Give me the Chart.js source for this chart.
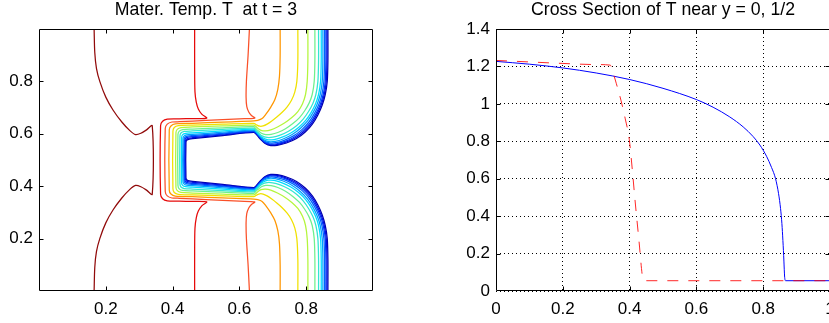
<!DOCTYPE html>
<html>
<head>
<meta charset="utf-8">
<script src="https://cdn.jsdelivr.net/npm/chart.js@4.4.1/dist/chart.umd.min.js"></script>
<style>
  html, body { margin: 0; padding: 0; background: #fff; overflow: hidden; width: 829px; height: 323px; }
  #left { position: absolute; left: 0; top: 0; }
  #right { position: absolute; left: 420px; top: 0; }
</style>
</head>
<body>
<canvas id="left" width="420" height="323"></canvas>
<canvas id="right" width="450" height="323"></canvas>
<script>
'use strict';

var FONT = '"Liberation Sans", Arial, Helvetica, sans-serif';

// contour levels of T, hottest first (jet colours)
var levelColors = [
  'rgb(145,10,10)', 'rgb(230,10,10)', 'rgb(250,80,40)', 'rgb(255,150,0)', 'rgb(240,225,0)',
  'rgb(180,245,60)', 'rgb(110,240,140)', 'rgb(50,230,210)', 'rgb(0,220,255)', 'rgb(0,160,255)',
  'rgb(0,100,255)', 'rgb(0,50,245)', 'rgb(0,10,220)', 'rgb(0,0,170)'
];

// each contour runs from the top edge (y = 1) to the bottom edge (y = 0)
var tDarkRed = [[0.165,1.0],[0.167,0.91],[0.172,0.85],[0.182,0.80],[0.200,0.74],[0.222,0.69],[0.248,0.645],[0.272,0.612],[0.289,0.597],[0.305,0.602],[0.322,0.615],[0.339,0.631],
  [0.339,0.369],[0.322,0.385],[0.305,0.398],[0.289,0.403],[0.272,0.388],[0.248,0.355],[0.222,0.31],[0.200,0.26],[0.182,0.20],[0.172,0.15],[0.167,0.09],[0.165,0.0]];

var tRed = [[0.466,1.0],[0.466,0.85],[0.467,0.76],[0.471,0.72],[0.477,0.695],[0.488,0.674],[0.502,0.660],[0.46,0.658],[0.42,0.657],[0.384,0.656],[0.370,0.648],[0.364,0.631],
  [0.364,0.369],[0.370,0.352],[0.384,0.344],[0.42,0.343],[0.46,0.342],[0.502,0.340],[0.488,0.326],[0.477,0.305],[0.471,0.28],[0.467,0.24],[0.466,0.15],[0.466,0.0]];

var tOrangeRed = [[0.630,1.0],[0.626,0.90],[0.621,0.80],[0.620,0.74],[0.622,0.705],[0.628,0.683],[0.636,0.670],[0.646,0.660],[0.60,0.657],[0.50,0.651],[0.42,0.646],[0.398,0.645],[0.384,0.637],[0.378,0.620],
  [0.378,0.380],[0.384,0.363],[0.398,0.355],[0.42,0.354],[0.50,0.349],[0.60,0.343],[0.646,0.340],[0.636,0.330],[0.628,0.317],[0.622,0.295],[0.620,0.26],[0.621,0.20],[0.626,0.10],[0.630,0.0]];

var tOrange = [[0.722,1.0],[0.722,0.90],[0.720,0.82],[0.715,0.77],[0.706,0.73],[0.694,0.702],[0.680,0.676],[0.668,0.658],[0.655,0.651],[0.643,0.649],[0.55,0.645],[0.46,0.640],[0.408,0.638],[0.395,0.630],[0.390,0.615],
  [0.390,0.385],[0.395,0.370],[0.408,0.362],[0.46,0.360],[0.55,0.355],[0.643,0.351],[0.655,0.349],[0.668,0.342],[0.680,0.324],[0.694,0.298],[0.706,0.27],[0.715,0.23],[0.720,0.18],[0.722,0.10],[0.722,0.0]];

var tYellow = [[0.775,1.0],[0.775,0.88],[0.772,0.80],[0.766,0.76],[0.756,0.728],[0.743,0.703],[0.728,0.682],[0.712,0.664],[0.697,0.649],[0.683,0.637],[0.671,0.630],[0.661,0.629],[0.653,0.633],[0.643,0.640],[0.55,0.637],[0.46,0.633],[0.417,0.631],[0.405,0.624],[0.401,0.610],
  [0.401,0.390],[0.405,0.376],[0.417,0.369],[0.46,0.367],[0.55,0.363],[0.643,0.360],[0.653,0.367],[0.661,0.371],[0.671,0.370],[0.683,0.363],[0.697,0.351],[0.712,0.336],[0.728,0.318],[0.743,0.297],[0.756,0.272],[0.766,0.24],[0.772,0.20],[0.775,0.12],[0.775,0.0]];

var tYellowGreen = [[0.805,1.0],[0.805,0.88],[0.803,0.80],[0.798,0.75],[0.789,0.715],[0.775,0.685],[0.757,0.662],[0.736,0.642],[0.714,0.626],[0.694,0.615],[0.678,0.611],[0.665,0.613],[0.655,0.621],[0.643,0.633],[0.55,0.630],[0.46,0.626],[0.425,0.624],[0.414,0.617],[0.410,0.604],
  [0.410,0.396],[0.414,0.383],[0.425,0.376],[0.46,0.374],[0.55,0.370],[0.643,0.367],[0.655,0.379],[0.665,0.387],[0.678,0.389],[0.694,0.385],[0.714,0.374],[0.736,0.358],[0.757,0.338],[0.775,0.315],[0.789,0.285],[0.798,0.25],[0.803,0.20],[0.805,0.12],[0.805,0.0]];

var tGreen = [[0.826,1.0],[0.826,0.88],[0.824,0.80],[0.818,0.75],[0.809,0.718],[0.796,0.689],[0.780,0.662],[0.760,0.639],[0.738,0.619],[0.715,0.605],[0.695,0.598],[0.679,0.597],[0.666,0.602],[0.656,0.612],[0.649,0.620],[0.643,0.627],[0.55,0.623],[0.46,0.618],[0.430,0.616],[0.420,0.610],[0.416,0.597],
  [0.416,0.403],[0.420,0.390],[0.430,0.384],[0.46,0.382],[0.55,0.377],[0.643,0.373],[0.649,0.380],[0.656,0.388],[0.666,0.398],[0.679,0.403],[0.695,0.402],[0.715,0.395],[0.738,0.381],[0.760,0.361],[0.780,0.338],[0.796,0.311],[0.809,0.282],[0.818,0.25],[0.824,0.20],[0.826,0.12],[0.826,0.0]];

var tCyanGreen = [[0.837,1.0],[0.837,0.88],[0.835,0.80],[0.829,0.75],[0.820,0.716],[0.807,0.685],[0.791,0.656],[0.771,0.631],[0.747,0.610],[0.722,0.595],[0.700,0.587],[0.683,0.586],[0.668,0.592],[0.657,0.604],[0.649,0.614],[0.643,0.622],[0.55,0.617],[0.46,0.611],[0.435,0.609],[0.425,0.603],[0.422,0.591],
  [0.422,0.409],[0.425,0.397],[0.435,0.391],[0.46,0.389],[0.55,0.383],[0.643,0.378],[0.649,0.386],[0.657,0.396],[0.668,0.408],[0.683,0.414],[0.700,0.413],[0.722,0.405],[0.747,0.390],[0.771,0.369],[0.791,0.344],[0.807,0.315],[0.820,0.284],[0.829,0.25],[0.835,0.20],[0.837,0.12],[0.837,0.0]];

var tCyan = [[0.845,1.0],[0.845,0.88],[0.843,0.80],[0.837,0.75],[0.828,0.715],[0.815,0.682],[0.799,0.652],[0.778,0.625],[0.754,0.603],[0.728,0.587],[0.704,0.578],[0.686,0.577],[0.670,0.585],[0.658,0.598],[0.650,0.610],[0.643,0.618],[0.55,0.611],[0.46,0.604],[0.439,0.602],[0.430,0.597],[0.427,0.586],
  [0.427,0.414],[0.430,0.403],[0.439,0.398],[0.46,0.396],[0.55,0.389],[0.643,0.382],[0.650,0.390],[0.658,0.402],[0.670,0.415],[0.686,0.423],[0.704,0.422],[0.728,0.413],[0.754,0.397],[0.778,0.375],[0.799,0.348],[0.815,0.318],[0.828,0.285],[0.837,0.25],[0.843,0.20],[0.845,0.12],[0.845,0.0]];

var tLightBlue = [[0.850,1.0],[0.850,0.88],[0.848,0.80],[0.842,0.75],[0.833,0.714],[0.820,0.680],[0.804,0.649],[0.783,0.621],[0.758,0.597],[0.731,0.580],[0.707,0.571],[0.688,0.570],[0.672,0.578],[0.660,0.593],[0.651,0.606],[0.643,0.614],[0.55,0.606],[0.46,0.598],[0.442,0.596],[0.434,0.591],[0.431,0.581],
  [0.431,0.419],[0.434,0.409],[0.442,0.404],[0.46,0.402],[0.55,0.394],[0.643,0.386],[0.651,0.394],[0.660,0.407],[0.672,0.422],[0.688,0.430],[0.707,0.429],[0.731,0.420],[0.758,0.403],[0.783,0.379],[0.804,0.351],[0.820,0.320],[0.833,0.286],[0.842,0.25],[0.848,0.20],[0.850,0.12],[0.850,0.0]];

var tBlue1 = [[0.855,1.0],[0.855,0.88],[0.853,0.80],[0.847,0.75],[0.838,0.713],[0.825,0.678],[0.809,0.646],[0.788,0.617],[0.762,0.592],[0.734,0.575],[0.709,0.566],[0.690,0.565],[0.674,0.573],[0.661,0.589],[0.652,0.603],[0.643,0.611],[0.55,0.602],[0.46,0.593],[0.445,0.591],[0.437,0.587],[0.434,0.577],
  [0.434,0.423],[0.437,0.413],[0.445,0.409],[0.46,0.407],[0.55,0.398],[0.643,0.389],[0.652,0.397],[0.661,0.411],[0.674,0.427],[0.690,0.435],[0.709,0.434],[0.734,0.425],[0.762,0.408],[0.788,0.383],[0.809,0.354],[0.825,0.322],[0.838,0.287],[0.847,0.25],[0.853,0.20],[0.855,0.12],[0.855,0.0]];

var tBlue2 = [[0.859,1.0],[0.859,0.88],[0.857,0.80],[0.851,0.75],[0.842,0.712],[0.829,0.676],[0.813,0.643],[0.792,0.614],[0.765,0.588],[0.737,0.571],[0.711,0.562],[0.692,0.561],[0.675,0.569],[0.662,0.585],[0.652,0.600],[0.643,0.609],[0.55,0.599],[0.46,0.589],[0.447,0.587],[0.439,0.583],[0.436,0.574],
  [0.436,0.426],[0.439,0.417],[0.447,0.413],[0.46,0.411],[0.55,0.401],[0.643,0.391],[0.652,0.400],[0.662,0.415],[0.675,0.431],[0.692,0.439],[0.711,0.438],[0.737,0.429],[0.765,0.412],[0.792,0.386],[0.813,0.357],[0.829,0.324],[0.842,0.288],[0.851,0.25],[0.857,0.20],[0.859,0.12],[0.859,0.0]];

var tBlue3 = [[0.862,1.0],[0.862,0.88],[0.860,0.80],[0.854,0.75],[0.845,0.711],[0.832,0.674],[0.816,0.640],[0.795,0.611],[0.768,0.585],[0.739,0.568],[0.712,0.559],[0.693,0.558],[0.676,0.566],[0.663,0.582],[0.653,0.597],[0.643,0.607],[0.55,0.596],[0.46,0.585],[0.448,0.583],[0.441,0.579],[0.438,0.571],
  [0.438,0.429],[0.441,0.421],[0.448,0.417],[0.46,0.415],[0.55,0.404],[0.643,0.393],[0.653,0.403],[0.663,0.418],[0.676,0.434],[0.693,0.442],[0.712,0.441],[0.739,0.432],[0.768,0.415],[0.795,0.389],[0.816,0.360],[0.832,0.326],[0.845,0.289],[0.854,0.25],[0.860,0.20],[0.862,0.12],[0.862,0.0]];

var tDarkBlue = [[0.865,1.0],[0.865,0.88],[0.863,0.80],[0.857,0.75],[0.848,0.71],[0.835,0.672],[0.819,0.638],[0.798,0.608],[0.771,0.582],[0.741,0.565],[0.713,0.556],[0.694,0.555],[0.677,0.563],[0.664,0.578],[0.653,0.594],[0.643,0.605],[0.55,0.593],[0.46,0.582],[0.450,0.580],[0.443,0.576],[0.440,0.568],
  [0.440,0.432],[0.443,0.424],[0.450,0.420],[0.46,0.418],[0.55,0.407],[0.643,0.395],[0.653,0.406],[0.664,0.422],[0.677,0.437],[0.694,0.445],[0.713,0.444],[0.741,0.435],[0.771,0.418],[0.798,0.392],[0.819,0.362],[0.835,0.328],[0.848,0.29],[0.857,0.25],[0.863,0.20],[0.865,0.12],[0.865,0.0]];

var contourLines = [tDarkRed, tRed, tOrangeRed, tOrange, tYellow, tYellowGreen, tGreen,
  tCyanGreen, tCyan, tLightBlue, tBlue1, tBlue2, tBlue3, tDarkBlue];

// cross sections of T
var blueX = [0, 0.1, 0.2, 0.3, 0.4, 0.5, 0.6, 0.65, 0.7, 0.74, 0.77, 0.79, 0.81, 0.825, 0.837, 0.846, 0.852, 0.856, 0.859, 0.862, 0.864, 0.867, 1.0];
var blueT = [1.227, 1.212, 1.192, 1.165, 1.130, 1.083, 1.023, 0.982, 0.930, 0.877, 0.825, 0.78, 0.72, 0.66, 0.60, 0.52, 0.44, 0.36, 0.27, 0.16, 0.08, 0.055, 0.055];
var redX = [0, 0.1, 0.2, 0.3, 0.342, 0.35, 0.36, 0.374, 0.387, 0.399, 0.408, 0.416, 0.428, 0.439, 0.443, 1.0];
var redT = [1.232, 1.224, 1.216, 1.21, 1.207, 1.17, 1.11, 1.02, 0.92, 0.81, 0.65, 0.49, 0.27, 0.07, 0.055, 0.055];

var leftLabelled = [0.2, 0.4, 0.6, 0.8];

function fmt(v) {
  return String(Math.round(v * 10) / 10);
}

// box round the axes with inward ticks on all four sides, plus the title
var matlabBox = {
  id: 'matlabBox',
  afterDatasetsDraw: function(chart, args, opts) {
    var ctx = chart.ctx, a = chart.chartArea;
    var sx = chart.scales.x, sy = chart.scales.y;
    var L = Math.round(a.left) + 0.5, R = Math.round(a.right) - 0.5;
    var T = Math.round(a.top) + 0.5, B = Math.round(a.bottom) - 0.5;
    ctx.save();
    ctx.strokeStyle = '#000';
    ctx.lineWidth = 1;
    ctx.lineCap = 'butt';
    ctx.beginPath();
    sx.ticks.forEach(function(t) {
      if (t.value <= sx.min || t.value >= sx.max) return;
      var px = Math.round(sx.getPixelForValue(t.value)) + 0.5;
      ctx.moveTo(px, B); ctx.lineTo(px, B - 4);
      ctx.moveTo(px, T); ctx.lineTo(px, T + 4);
    });
    sy.ticks.forEach(function(t) {
      if (t.value <= sy.min || t.value >= sy.max) return;
      var py = Math.round(sy.getPixelForValue(t.value)) + 0.5;
      ctx.moveTo(L, py); ctx.lineTo(L + 4, py);
      ctx.moveTo(R, py); ctx.lineTo(R - 4, py);
    });
    ctx.moveTo(L, T); ctx.lineTo(R, T); ctx.lineTo(R, B); ctx.lineTo(L, B); ctx.closePath();
    ctx.stroke();
    ctx.fillStyle = '#000';
    ctx.font = '17.7px ' + FONT;
    ctx.textAlign = 'center';
    ctx.textBaseline = 'alphabetic';
    ctx.fillText(opts.title, (a.left + a.right) / 2, 15);
    ctx.restore();
  }
};

function tickFont() {
  return {family: FONT, size: 17};
}

var leftDatasets = contourLines.map(function(line, i) {
  return {
    data: line.map(function(p) { return {x: p[0], y: p[1]}; }),
    borderColor: levelColors[i],
    borderWidth: 1.25,
    pointRadius: 0,
    showLine: true,
    fill: false,
    tension: 0.3
  };
});

new Chart(document.getElementById('left'), {
  type: 'scatter',
  data: {datasets: leftDatasets},
  plugins: [matlabBox],
  options: {
    responsive: false,
    animation: false,
    events: [],
    layout: {padding: {top: 29, left: 0, right: 47, bottom: 0}},
    plugins: {
      legend: {display: false},
      tooltip: {enabled: false},
      matlabBox: {title: 'Mater. Temp. T  at t = 3'}
    },
    scales: {
      x: {
        type: 'linear', min: 0, max: 1,
        ticks: {stepSize: 0.2, autoSkip: false, maxRotation: 0, padding: 8, color: '#000', font: tickFont(),
          callback: function(v) { return leftLabelled.indexOf(Math.round(v * 10) / 10) >= 0 ? fmt(v) : ''; }},
        grid: {display: false, drawTicks: false},
        border: {display: false},
        afterFit: function(s) { s.height = 32; }
      },
      y: {
        type: 'linear', min: 0, max: 1,
        ticks: {stepSize: 0.2, autoSkip: false, padding: 6, color: '#000', font: tickFont(),
          callback: function(v) { return leftLabelled.indexOf(Math.round(v * 10) / 10) >= 0 ? fmt(v) : ''; }},
        grid: {display: false, drawTicks: false},
        border: {display: false},
        afterFit: function(s) { s.width = 39; }
      }
    }
  }
});

function pairs(xs, ys) {
  return xs.map(function(x, i) { return {x: x, y: ys[i]}; });
}

new Chart(document.getElementById('right'), {
  type: 'scatter',
  data: {
    datasets: [{
      data: pairs(redX, redT),
      borderColor: 'rgba(255,0,0,0.85)',
      borderWidth: 1,
      borderDash: [11, 10],
      pointRadius: 0,
      showLine: true,
      cubicInterpolationMode: 'monotone'
    }, {
      data: pairs(blueX, blueT),
      borderColor: 'rgb(0,0,255)',
      borderWidth: 1,
      pointRadius: 0,
      showLine: true,
      cubicInterpolationMode: 'monotone'
    }]
  },
  plugins: [matlabBox],
  options: {
    responsive: false,
    animation: false,
    events: [],
    layout: {padding: {top: 29, left: 0, right: 40, bottom: 0}},
    plugins: {
      legend: {display: false},
      tooltip: {enabled: false},
      matlabBox: {title: 'Cross Section of T near y = 0, 1/2'}
    },
    scales: {
      x: {
        type: 'linear', min: 0, max: 1,
        ticks: {stepSize: 0.2, autoSkip: false, maxRotation: 0, padding: 8, color: '#000', font: tickFont(), callback: fmt},
        grid: {color: '#000', lineWidth: 1, drawTicks: false},
        border: {display: false, dash: [1, 3]},
        afterFit: function(s) { s.height = 32; }
      },
      y: {
        type: 'linear', min: 0, max: 1.4,
        ticks: {stepSize: 0.2, autoSkip: false, padding: 6, color: '#000', font: tickFont(), callback: fmt},
        grid: {color: '#000', lineWidth: 1, drawTicks: false},
        border: {display: false, dash: [1, 3]},
        afterFit: function(s) { s.width = 76; }
      }
    }
  }
});
</script>
</body>
</html>
